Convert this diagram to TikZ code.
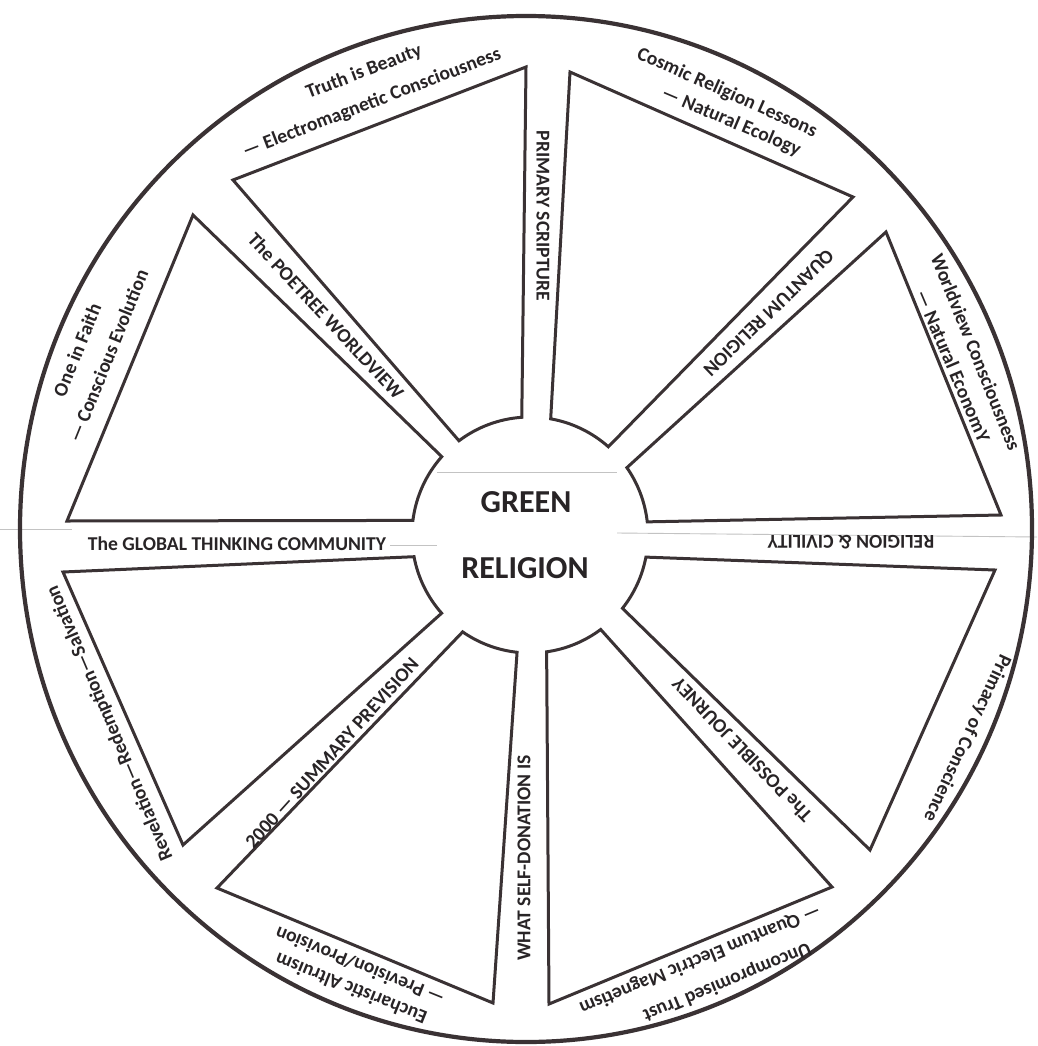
\documentclass[tikz,border=0pt]{standalone}
\usepackage{fontspec}
\setmainfont{Carlito}
\usetikzlibrary{calc}
\definecolor{ink}{RGB}{58,50,52}
\definecolor{txt}{RGB}{40,36,38}
\definecolor{faint}{RGB}{195,195,195}
\tikzset{
  rim/.style={draw=ink, line width=4.2pt},
  wedgeline/.style={draw=ink, line width=3pt, line join=miter},
  lbl/.style={text=txt, font=\fontsize{19.6}{22}\selectfont\bfseries, inner sep=0pt},
  hubtxt/.style={text=txt, font=\fontsize{32}{34}\selectfont\bfseries, inner sep=0pt},
  paper/.style={draw=faint, line width=0.9pt},
}
\newcommand{\wedgepath}[4]{%
  \draw[wedgeline] #1 -- ($(H)+(#2:118pt)$) arc[start angle=#2, end angle=#3, radius=118pt] -- #4 -- cycle;}
\begin{document}
\begin{tikzpicture}[x=1pt,y=-1pt]
\useasboundingbox (0,0) rectangle (1037,1046);
\fill[white] (0,0) rectangle (1037,1046);
\coordinate (H) at (530,535);
\coordinate (O) at (526,529);
% faint paper edges
\draw[paper] (437,472) -- (617,472);
\draw[paper] (0,529) -- (72,529);
\draw[paper] (390,545) -- (437,545);
\draw[paper] (617,533) -- (1037,537);
% outer rim
\draw[rim] (O) ellipse [x radius=506pt, y radius=513pt];
% wedges
\wedgepath{(526,67)}{94}{127}{(233,180)}
\wedgepath{(193,215)}{138.4}{172.9}{(67,521)}
\wedgepath{(63,572)}{190.6}{221.5}{(183,845)}
\wedgepath{(217,888)}{235.2}{263.7}{(493,1003)}
\wedgepath{(549,1004)}{278.1}{306.8}{(832,887)}
\wedgepath{(870,850)}{321.6}{349.2}{(995,570)}
\wedgepath{(1001,515)}{6.4}{34.8}{(886,232)}
\wedgepath{(853,197)}{48.4}{79.9}{(570,72)}
% hub text
\node[hubtxt] (green) at (526,502) {GREEN};
\node[hubtxt] (religion) at (525,568) {RELIGION};
% spoke labels
\node[lbl, rotate=-90] (s1) at (543,216) {PRIMARY SCRIPTURE};
\node[lbl, rotate=224] (s2) at (768,312) {QUANTUM RELIGION};
\node[lbl, rotate=180] (s3) at (851,542) {RELIGION \& CIVILITY};
\node[lbl, rotate=134] (s4) at (742,750) {The POSSIBLE JOURNEY};
\node[lbl, rotate=90] (s5) at (524,858) {WHAT SELF-DONATION IS};
\node[lbl, rotate=48] (s6) at (332,753) {2000 — SUMMARY PREVISION};
\node[lbl] (s7) at (237,544) {The GLOBAL THINKING COMMUNITY};
\node[lbl, rotate=-47] (s8) at (326,316) {The POETREE WORLDVIEW};
% outer labels
\node[lbl, rotate=21] (a1) at (364,72) {Truth is Beauty};
\node[lbl, rotate=21] (a2) at (372,103) {— Electromagnetic Consciousness};
\node[lbl, rotate=-24] (b1) at (727,93) {Cosmic Religion Lessons};
\node[lbl, rotate=-23] (b2) at (731,122) {— Natural Ecology};
\node[lbl, rotate=-68] (c1) at (976,352) {Worldview Consciousness};
\node[lbl, rotate=-67] (c2) at (953,366) {— Natural EconomY};
\node[lbl, rotate=-115] (d1) at (967,738) {Primacy of Conscience};
\node[lbl, rotate=202.5] (e1) at (727,982) {Uncompromised Trust};
\node[lbl, rotate=202.5] (e2) at (700,959) {— Quantum Electric Magnetism};
\node[lbl, rotate=158] (f1) at (351,989) {Eucharistic Altruism};
\node[lbl, rotate=158] (f2) at (360,966) {— Prevision/Provision};
\node[lbl, rotate=113] (g1) at (110,723) {Revelation—Redemption—Salvation};
\node[lbl, rotate=68] (h1) at (77,350) {One in Faith};
\node[lbl, rotate=68] (h2) at (108,356) {— Conscious Evolution};
\end{tikzpicture}
\end{document}
